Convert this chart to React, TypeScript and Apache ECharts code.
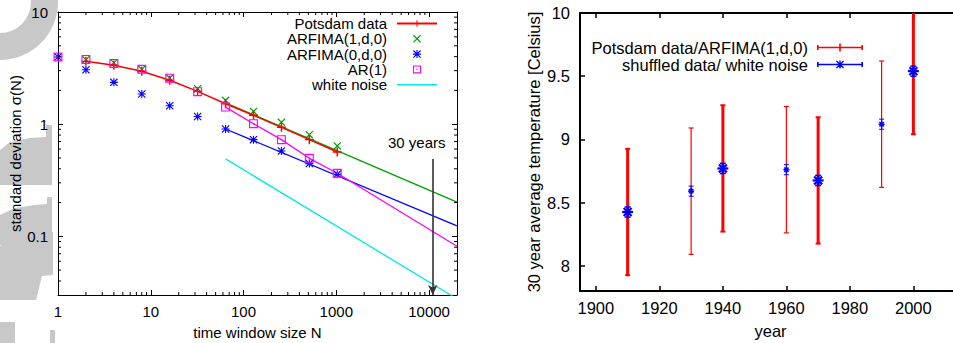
import React, { useEffect, useRef } from "react";
import * as echarts from "echarts";

// ---------- Left panel data ----------
const windowN = [1, 2, 4, 8, 16, 32, 64, 128, 256, 512, 1024];
const potsdamN = [2, 4, 8, 16, 32, 64, 128, 256, 512, 1024];
const potsdamSigma = [3.63, 3.35, 2.96, 2.46, 1.96, 1.52, 1.2, 0.937, 0.728, 0.565];
const arfima1N = [2, 4, 8, 16, 32, 64, 128, 256, 512, 1024];
const arfima1Sigma = [3.76, 3.53, 3.08, 2.58, 2.07, 1.63, 1.3, 1.04, 0.806, 0.639];
const arfima0Sigma = [3.97, 3.06, 2.36, 1.86, 1.46, 1.17, 0.906, 0.728, 0.577, 0.445, 0.357];
const ar1Sigma = [3.97, 3.78, 3.48, 3.09, 2.57, 1.95, 1.42, 1.01, 0.728, 0.496, 0.365];
const arfima1FitN = [64, 20000];
const arfima1FitSigma = [1.55, 0.202];
const arfima0FitN = [64, 20000];
const arfima0FitSigma = [0.906, 0.124];
const ar1FitN = [64, 128, 256, 512, 1024, 20000];
const ar1FitSigma = [1.42, 1.01, 0.728, 0.496, 0.365, 0.0815];
const whiteNoiseN = [64, 20000];
const whiteNoiseSigma = [0.49, 0.0277];
const arrowN = 10950; // 30 years in days
const arrowTopSigma = 0.49;
const arrowLabel = "30 years";
const minorXTicks = [2, 3, 4, 5, 6, 7, 8, 9, 20, 30, 40, 50, 60, 70, 80, 90, 200, 300, 400, 500, 600, 700, 800, 900, 2000, 3000, 4000, 5000, 6000, 7000, 8000, 9000];
const minorYTicks = [0.04, 0.05, 0.06, 0.07, 0.08, 0.09, 0.2, 0.3, 0.4, 0.5, 0.6, 0.7, 0.8, 0.9, 2, 3, 4, 5, 6, 7, 8, 9];

// ---------- Right panel data ----------
const yearsMain = [1910, 1940, 1970, 2000];
const meanMain = [8.425, 8.77, 8.675, 9.54];
const yearsOther = [1930, 1960, 1990];
const meanOther = [8.59, 8.76, 9.12];
const potsdamErrMain = [0.5, 0.5, 0.5, 0.5];
const potsdamErrOther = [0.5, 0.5, 0.5];
const shuffledErrMain = [0.04, 0.04, 0.04, 0.04];
const shuffledErrOther = [0.04, 0.04, 0.04];
const yearTicks = [1900, 1920, 1940, 1960, 1980, 2000];
const tempTicks = [8, 8.5, 9, 9.5, 10];

const FONT = "Liberation Sans, Arial, sans-serif";

const plusSym = "path://M4.2,0H5.8V4.2H10V5.8H5.8V10H4.2V5.8H0V4.2H4.2Z";
const crossSym = "path://M0,1.1L1.1,0L10,8.9L8.9,10Z M8.9,0L10,1.1L1.1,10L0,8.9Z";
const starSym = "path://M4.3,0H5.7V10H4.3Z M0,4.3H10V5.7H0Z M0,1L1,0L10,9L9,10Z M9,0L10,1L1,10L0,9Z";
const boxDotSym = "path://M0,0H10V10H0Z M1.3,1.3V8.7H8.7V1.3Z M4.2,4.2H5.8V5.8H4.2Z";
const lineIcon = "path://M0,0H40V1.4H0Z";
const redLegendIcon = "path://M0,3.2H46V4.8H0Z M0,1.5H1.6V6.5H0Z M44.4,1.5H46V6.5H44.4Z M22.2,0H23.8V8H22.2Z";
const blueLegendIcon =
  "path://M0,3.2H46V4.8H0Z M0,1.5H1.6V6.5H0Z M44.4,1.5H46V6.5H44.4Z M22.3,0H23.7V8H22.3Z M19,3.3H27V4.7H19Z M19,0.9L19.9,0L27,7.1L26.1,8Z M26.1,0L27,0.9L19.9,8L19,7.1Z";

const zip = (a: number[], b: number[]) => a.map((v, i) => [v, b[i]]);
const zip3 = (a: number[], b: number[], c: number[]) => a.map((v, i) => [v, b[i], c[i]]);
const plainNum = (v: number) => String(parseFloat(Number(v).toPrecision(8)));

const RED = "#ff0000";
const GREEN = "#00a000";
const BLUE = "#0000ff";
const MAGENTA = "#ff00ff";
const CYAN = "#00e8e8";
const GRAY = "#c8c8c8";

function errorBarRenderer(opts: {
  color: string;
  width: number;
  capHalf: number;
  capWidth: number;
  star?: number;
  starWidth?: number;
}) {
  return (params: any, api: any) => {
    const x = api.value(0);
    const m = api.value(1);
    const e = api.value(2);
    const cs = params.coordSys;
    const top = api.coord([x, m + e]);
    const bot = api.coord([x, m - e]);
    const ctr = api.coord([x, m]);
    const yTop = Math.max(top[1], cs.y);
    const yBot = Math.min(bot[1], cs.y + cs.height);
    const st = { stroke: opts.color, lineWidth: opts.width };
    const capSt = { stroke: opts.color, lineWidth: opts.capWidth };
    const children: any[] = [
      { type: "line", shape: { x1: top[0], y1: yTop, x2: top[0], y2: yBot }, style: st },
    ];
    if (top[1] >= cs.y) {
      children.push({ type: "line", shape: { x1: top[0] - opts.capHalf, y1: top[1], x2: top[0] + opts.capHalf, y2: top[1] }, style: capSt });
    }
    if (bot[1] <= cs.y + cs.height) {
      children.push({ type: "line", shape: { x1: bot[0] - opts.capHalf, y1: bot[1], x2: bot[0] + opts.capHalf, y2: bot[1] }, style: capSt });
    }
    if (opts.star) {
      const r = opts.star;
      const ss = { stroke: opts.color, lineWidth: opts.starWidth || 1.5 };
      const d = r * 0.72;
      children.push({ type: "line", shape: { x1: ctr[0] - r, y1: ctr[1], x2: ctr[0] + r, y2: ctr[1] }, style: ss });
      children.push({ type: "line", shape: { x1: ctr[0], y1: ctr[1] - r, x2: ctr[0], y2: ctr[1] + r }, style: ss });
      children.push({ type: "line", shape: { x1: ctr[0] - d, y1: ctr[1] - d, x2: ctr[0] + d, y2: ctr[1] + d }, style: ss });
      children.push({ type: "line", shape: { x1: ctr[0] - d, y1: ctr[1] + d, x2: ctr[0] + d, y2: ctr[1] - d }, style: ss });
    }
    return { type: "group", children };
  };
}

function minorTickRenderer(params: any, api: any) {
  const cs = params.coordSys;
  const kind = api.value(2);
  const p = api.coord([api.value(0), api.value(1)]);
  const st = { stroke: "#000", lineWidth: 1 };
  const L = 3;
  if (kind === 0) {
    return {
      type: "group",
      children: [
        { type: "line", shape: { x1: p[0], y1: cs.y + cs.height, x2: p[0], y2: cs.y + cs.height - L }, style: st },
        { type: "line", shape: { x1: p[0], y1: cs.y, x2: p[0], y2: cs.y + L }, style: st },
      ],
    };
  }
  return {
    type: "group",
    children: [
      { type: "line", shape: { x1: cs.x, y1: p[1], x2: cs.x + L, y2: p[1] }, style: st },
      { type: "line", shape: { x1: cs.x + cs.width, y1: p[1], x2: cs.x + cs.width - L, y2: p[1] }, style: st },
    ],
  };
}

export default function App() {
  const ref = useRef<HTMLDivElement>(null);
  useEffect(() => {
    if (!ref.current) return;
    const chart = echarts.init(ref.current, undefined, { renderer: "svg" });
    const txt = { fontSize: 15, color: "#000", fontFamily: FONT };
    const txtR = { fontSize: 16.5, color: "#000", fontFamily: FONT };
    const axLineL = { show: true, onZero: false, lineStyle: { color: "#000", width: 1 } };
    const axLineR = { show: true, onZero: false, lineStyle: { color: "#000", width: 2 } };
    const tickL = { show: true, inside: true, length: 5, lineStyle: { color: "#000", width: 1 } };
    const tickR = { show: true, inside: true, length: 5, lineStyle: { color: "#000", width: 1.5 } };

    const option: any = {
      animation: false,
      backgroundColor: "#fff",
      textStyle: { fontFamily: FONT },
      graphic: [
        { type: "sector", z: -10, shape: { cx: 0, cy: 2, r0: 31, r: 58, startAngle: 0, endAngle: Math.PI / 2 }, style: { fill: GRAY } },
        { type: "rect", z: -10, shape: { x: 31, y: 0, width: 27, height: 2 }, style: { fill: GRAY } },
        { type: "polygon", z: -10, shape: { points: [[46, 125], [52, 125], [52, 185], [0, 185], [0, 150], [10, 142], [30, 138], [46, 137]] }, style: { fill: GRAY } },
        { type: "polygon", z: -10, shape: { points: [[47, 197], [52, 197], [52, 245], [0, 245], [0, 215], [15, 208], [35, 205], [47, 204]] }, style: { fill: GRAY } },
        { type: "polygon", z: -10, shape: { points: [[12, 236], [40, 229], [53, 232], [53, 275], [42, 276], [36, 300], [0, 300], [0, 246]] }, style: { fill: GRAY } },
        { type: "rect", z: -10, shape: { x: 0, y: 322, width: 15, height: 21 }, style: { fill: GRAY } },
        { type: "rect", z: -10, shape: { x: 50, y: 330, width: 5, height: 13 }, style: { fill: GRAY } },
      ],
      grid: [
        { left: 58, top: 12, right: 496, bottom: 48, containLabel: false, outerBoundsMode: "none" },
        { left: 580, top: 13, right: -8, bottom: 52, containLabel: false, outerBoundsMode: "none" },
      ],
      legend: [
        {
          data: [
            "Potsdam data",
            "ARFIMA(1,d,0)",
            "ARFIMA(0,d,0)",
            "AR(1)",
            { name: "white noise", icon: lineIcon },
          ],
          orient: "vertical",
          align: "right",
          right: 515,
          top: 16,
          padding: 0,
          itemGap: 0.3,
          itemWidth: 40,
          itemHeight: 8,
          textStyle: { ...txt, lineHeight: 15, padding: [0, 5, 0, 0] },
          selectedMode: false,
        },
        {
          data: [
            { name: "Potsdam data/ARFIMA(1,d,0)", icon: redLegendIcon },
            { name: "shuffled data/ white noise", icon: blueLegendIcon },
          ],
          orient: "vertical",
          align: "right",
          right: 90,
          top: 39,
          padding: 0,
          itemGap: 0,
          itemWidth: 46,
          itemHeight: 8,
          textStyle: { ...txtR, lineHeight: 16, padding: [0, 4, 0, 0] },
          selectedMode: false,
        },
      ],
      xAxis: [
        {
          type: "log", logBase: 10, gridIndex: 0, min: 1, max: 20000,
          axisLine: axLineL, axisTick: tickL, splitLine: { show: false },
          axisLabel: { ...txt, margin: 9, showMaxLabel: false, formatter: plainNum },
          name: "time window size N", nameLocation: "middle", nameGap: 30, nameTextStyle: txt,
        },
        {
          type: "log", logBase: 10, gridIndex: 0, min: 1, max: 20000, position: "top",
          axisLine: axLineL, axisTick: tickL, splitLine: { show: false }, axisLabel: { show: false },
        },
        {
          type: "value", gridIndex: 1, min: 1895, max: 2015,
          axisLine: axLineR, axisTick: { ...tickR, customValues: yearTicks }, splitLine: { show: false },
          axisLabel: { ...txtR, margin: 8, customValues: yearTicks, formatter: plainNum },
          name: "year", nameLocation: "middle", nameGap: 31, nameTextStyle: txtR,
        },
        {
          type: "value", gridIndex: 1, min: 1895, max: 2015, position: "top",
          axisLine: axLineR, axisTick: { ...tickR, customValues: yearTicks }, splitLine: { show: false },
          axisLabel: { show: false, customValues: yearTicks },
        },
      ],
      yAxis: [
        {
          type: "log", logBase: 10, gridIndex: 0, min: 0.03, max: 10,
          axisLine: axLineL, axisTick: tickL, splitLine: { show: false },
          axisLabel: { ...txt, margin: 10, showMinLabel: false, formatter: plainNum },
          name: "standard deviation σ(N)", nameLocation: "middle", nameGap: 33, nameTextStyle: txt,
        },
        {
          type: "log", logBase: 10, gridIndex: 0, min: 0.03, max: 10, position: "right",
          axisLine: axLineL, axisTick: tickL, splitLine: { show: false }, axisLabel: { show: false },
        },
        {
          type: "value", gridIndex: 1, min: 7.8, max: 10,
          axisLine: axLineR, axisTick: { ...tickR, customValues: tempTicks }, splitLine: { show: false },
          axisLabel: { ...txtR, margin: 10, customValues: tempTicks, formatter: plainNum },
          name: "30 year average temperature [Celsius]", nameLocation: "middle", nameGap: 38, nameTextStyle: txtR,
        },
      ],
      series: [
        {
          name: "minor ticks", type: "custom", xAxisIndex: 0, yAxisIndex: 0, silent: true,
          renderItem: minorTickRenderer,
          data: [...minorXTicks.map((v) => [v, 1, 0]), ...minorYTicks.map((v) => [1, v, 1])],
          z: 5,
        },
        {
          name: "ARFIMA(1,d,0) fit", type: "line", xAxisIndex: 0, yAxisIndex: 0,
          data: zip(arfima1FitN, arfima1FitSigma), symbol: "none",
          lineStyle: { color: GREEN, width: 1.3 }, itemStyle: { color: GREEN }, z: 1,
        },
        {
          name: "ARFIMA(0,d,0) fit", type: "line", xAxisIndex: 0, yAxisIndex: 0,
          data: zip(arfima0FitN, arfima0FitSigma), symbol: "none",
          lineStyle: { color: BLUE, width: 1.3 }, itemStyle: { color: BLUE }, z: 1,
        },
        {
          name: "AR(1) fit", type: "line", xAxisIndex: 0, yAxisIndex: 0,
          data: zip(ar1FitN, ar1FitSigma), symbol: "none",
          lineStyle: { color: MAGENTA, width: 1.3 }, itemStyle: { color: MAGENTA }, z: 1,
        },
        {
          name: "white noise", type: "line", xAxisIndex: 0, yAxisIndex: 0,
          data: zip(whiteNoiseN, whiteNoiseSigma), symbol: "none", clip: true,
          lineStyle: { color: CYAN, width: 1.3 }, itemStyle: { color: CYAN }, z: 1,
        },
        {
          name: "Potsdam data", type: "line", xAxisIndex: 0, yAxisIndex: 0,
          data: zip(potsdamN, potsdamSigma), symbol: plusSym, symbolSize: 9, showAllSymbol: true,
          lineStyle: { color: RED, width: 1.5 }, itemStyle: { color: RED }, z: 3,
        },
        {
          name: "ARFIMA(1,d,0)", type: "scatter", xAxisIndex: 0, yAxisIndex: 0,
          data: zip(arfima1N, arfima1Sigma), symbol: crossSym, symbolSize: 8,
          itemStyle: { color: GREEN, opacity: 1 }, z: 2,
        },
        {
          name: "ARFIMA(0,d,0)", type: "scatter", xAxisIndex: 0, yAxisIndex: 0,
          data: zip(windowN, arfima0Sigma), symbol: starSym, symbolSize: 8,
          itemStyle: { color: BLUE, opacity: 1 }, z: 4,
        },
        {
          name: "AR(1)", type: "scatter", xAxisIndex: 0, yAxisIndex: 0,
          data: zip(windowN, ar1Sigma), symbol: boxDotSym, symbolSize: 9,
          itemStyle: { color: MAGENTA, opacity: 1 }, z: 4,
        },
        {
          name: "arrow", type: "line", xAxisIndex: 0, yAxisIndex: 0,
          data: [[arrowN, arrowTopSigma]], symbol: "none", lineStyle: { opacity: 0 },
          markLine: {
            silent: true, symbol: ["none", "arrow"], symbolSize: [7, 10],
            lineStyle: { color: "#333", width: 1.6, type: "solid" },
            itemStyle: { color: "#333" },
            label: { show: false },
            data: [[{ coord: [arrowN, arrowTopSigma] }, { coord: [arrowN, 0.03] }]],
          },
          markPoint: {
            silent: true, symbol: "circle", symbolSize: 0,
            label: { show: true, position: "top", formatter: arrowLabel, offset: [-16, -4], ...txt },
            data: [{ coord: [arrowN, arrowTopSigma] }],
          },
          z: 2,
        },
        // ---------- Right panel ----------
        {
          name: "Potsdam data/ARFIMA(1,d,0)", type: "custom", xAxisIndex: 2, yAxisIndex: 2,
          renderItem: errorBarRenderer({ color: RED, width: 1.2, capHalf: 2.5, capWidth: 1.2 }),
          data: zip3(yearsOther, meanOther, potsdamErrOther), itemStyle: { color: RED }, z: 2,
        },
        {
          name: "Potsdam data/ARFIMA(1,d,0)", type: "custom", xAxisIndex: 2, yAxisIndex: 2,
          renderItem: errorBarRenderer({ color: RED, width: 3, capHalf: 2.5, capWidth: 2 }),
          data: zip3(yearsMain, meanMain, potsdamErrMain), itemStyle: { color: RED }, z: 2,
        },
        {
          name: "shuffled data/ white noise", type: "custom", xAxisIndex: 2, yAxisIndex: 2,
          renderItem: errorBarRenderer({ color: BLUE, width: 1, capHalf: 2.5, capWidth: 1, star: 3, starWidth: 1.5 }),
          data: zip3(yearsOther, meanOther, shuffledErrOther), itemStyle: { color: BLUE }, z: 3,
        },
        {
          name: "shuffled data/ white noise", type: "custom", xAxisIndex: 2, yAxisIndex: 2,
          renderItem: errorBarRenderer({ color: BLUE, width: 1.5, capHalf: 3, capWidth: 1.5, star: 5.5, starWidth: 2.2 }),
          data: zip3(yearsMain, meanMain, shuffledErrMain), itemStyle: { color: BLUE }, z: 3,
        },
      ],
    };
    chart.setOption(option);
    return () => chart.dispose();
  }, []);
  return (
    <div style={{ position: "fixed", left: 0, top: 0, width: 953, height: 343, overflow: "hidden", background: "#fff" }}>
      <div ref={ref} style={{ width: 953, height: 343 }} />
    </div>
  );
}
